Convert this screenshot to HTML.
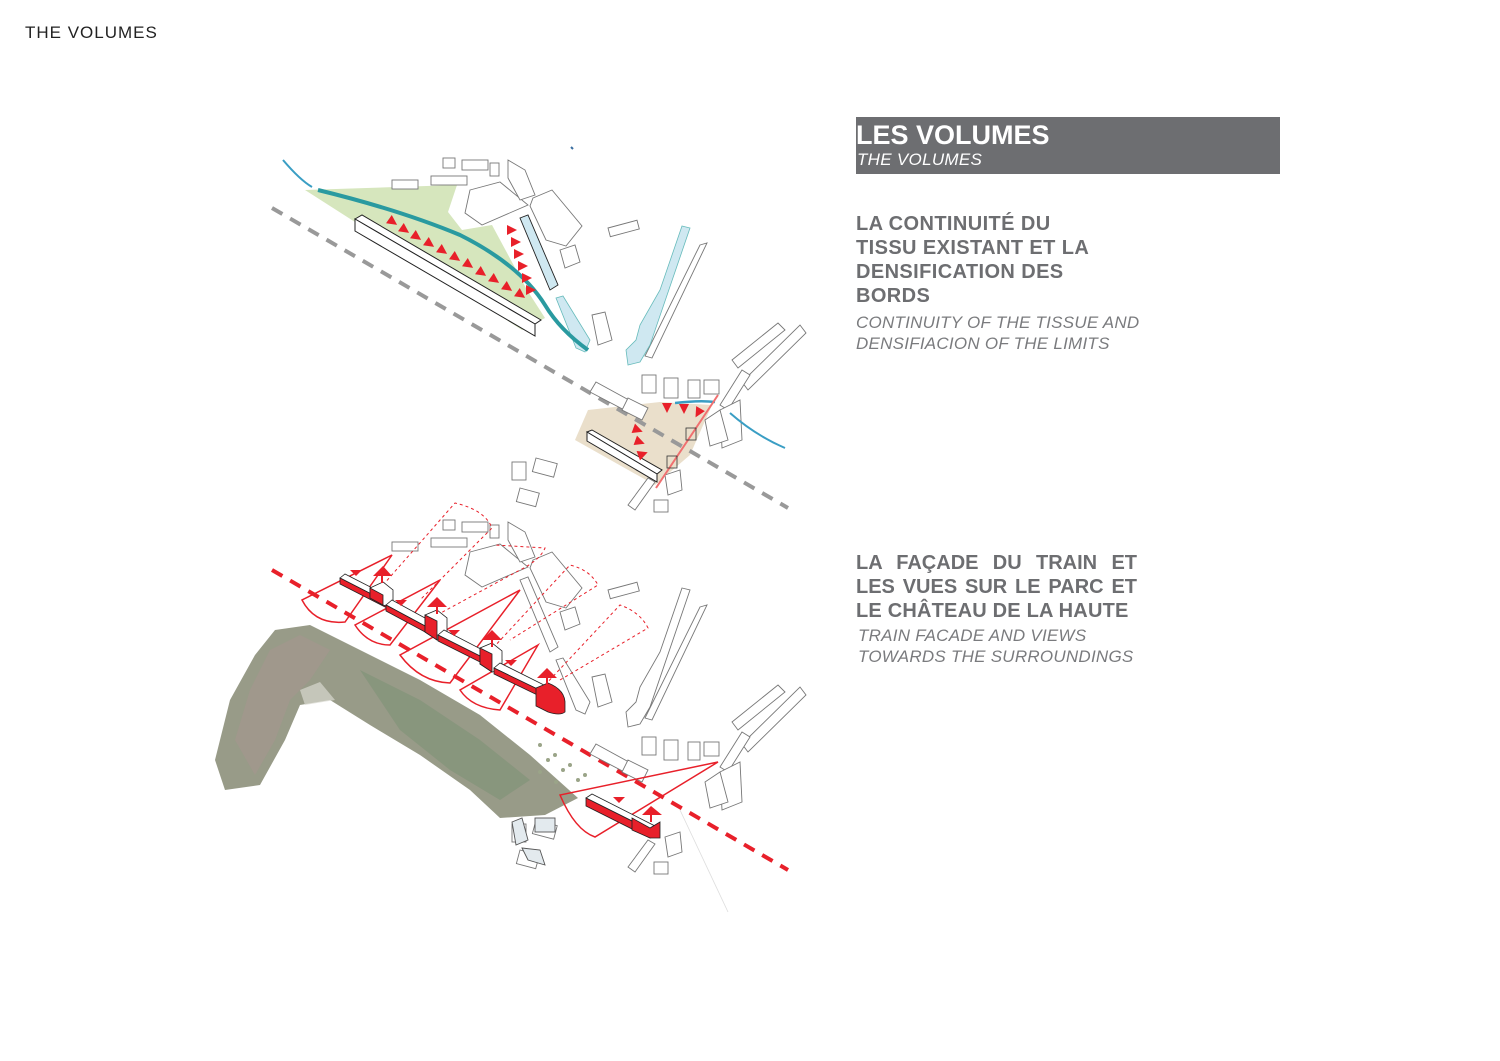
<!DOCTYPE html>
<html><head><meta charset="utf-8"><style>
html,body{margin:0;padding:0;background:#fff}
body{width:1500px;height:1061px;position:relative;overflow:hidden;font-family:"Liberation Sans",sans-serif}
.t{position:absolute;color:#6d6e71}
</style></head><body>
<div class="t" style="left:25px;top:23px;font-size:17px;color:#222;letter-spacing:1px">THE VOLUMES</div>
<div style="position:absolute;left:856px;top:117px;width:424px;height:57px;background:#6d6e71"></div>
<div class="t" style="left:856px;top:120px;font-size:27px;font-weight:bold;color:#fff">LES VOLUMES</div>
<div class="t" style="left:857px;top:150px;font-size:17px;font-style:italic;color:#fff;letter-spacing:0.3px">THE VOLUMES</div>
<div class="t" style="left:856px;top:212px;font-size:20px;font-weight:bold;line-height:24px;letter-spacing:0.4px">LA CONTINUITÉ DU<br>TISSU EXISTANT ET LA<br>DENSIFICATION DES<br>BORDS</div>
<div class="t" style="left:856px;top:312px;font-size:17px;font-style:italic;line-height:21px;color:#7a7b7e;letter-spacing:0.25px">CONTINUITY OF THE TISSUE AND<br>DENSIFIACION OF THE LIMITS</div>
<div class="t" style="left:856px;top:551px;width:281px;font-size:20px;font-weight:bold;line-height:24px;text-align:justify;text-align-last:justify">LA FAÇADE DU TRAIN ET LES VUES SUR LE PARC ET</div>
<div class="t" style="left:856px;top:599px;font-size:20px;font-weight:bold;line-height:24px;letter-spacing:0.2px">LE CHÂTEAU DE LA HAUTE</div>
<div class="t" style="left:858px;top:625px;font-size:17px;font-style:italic;line-height:21px;color:#7a7b7e;letter-spacing:0.25px">TRAIN FACADE AND VIEWS<br>TOWARDS THE SURROUNDINGS</div>

<svg width="1500" height="1061" style="position:absolute;left:0;top:0" xmlns="http://www.w3.org/2000/svg">
<defs>
<g id="bld" fill="#fff" stroke="#777" stroke-width="0.9">
 <rect x="443" y="158" width="12" height="10"/><rect x="462" y="160" width="26" height="10"/><rect x="490" y="163" width="9" height="13"/>
 <rect x="392" y="180" width="26" height="9"/><rect x="431" y="176" width="36" height="9"/>
 <polygon points="470,190 500,182 528,205 482,225 465,213"/>
 <polygon points="508,160 525,170 535,195 520,200 508,178"/>
 <polygon points="533,198 552,190 582,226 566,246 546,240 530,206"/>
 <rect x="608" y="228" width="30" height="9" transform="rotate(-15 608 228)"/>
 <polygon points="700,245 707,243 652,358 645,356"/>
 <polygon points="560,250 575,245 580,262 565,268"/>
 <polygon points="592,315 605,312 612,340 598,345"/>
 <polygon points="596,382 638,405 632,414 590,392"/>
 <polygon points="628,398 648,408 642,420 622,410"/>
 <rect x="642" y="375" width="14" height="18"/><rect x="664" y="378" width="14" height="20"/><rect x="688" y="380" width="12" height="18"/><rect x="704" y="380" width="15" height="14"/>
 <polygon points="732,360 778,323 785,330 738,368"/>
 <polygon points="742,382 800,325 806,333 748,390"/>
 <polygon points="720,405 742,370 750,375 728,410"/>
 <polygon points="720,410 740,400 742,440 722,448"/>
 <polygon points="705,420 720,410 728,440 710,446"/>
 <rect x="512" y="462" width="14" height="18"/><rect x="536" y="458" width="22" height="14" transform="rotate(15 536 458)"/><rect x="520" y="488" width="20" height="14" transform="rotate(15 520 488)"/>
 <polygon points="628,505 648,478 655,482 635,510"/><rect x="654" y="500" width="14" height="12"/>
 <polygon points="665,475 680,470 682,490 668,495"/>
</g>
</defs>

<!-- TOP DIAGRAM -->
<polygon points="305,190 457,185 448,212 462,230 492,225 527,290 545,318 522,330 355,222" fill="#d6e6bd"/>
<polygon points="588,410 660,402 712,405 690,455 655,485 575,440" fill="#eadfcb"/>
<line x1="272" y1="208" x2="788" y2="508" stroke="#999" stroke-width="4" stroke-dasharray="12,9"/>
<use href="#bld"/>
<g fill="#cfe8f1" stroke="#222" stroke-width="0.9">
 <polygon points="520,218 528,215 558,285 550,290"/>
</g>
<g fill="#cfe8f1" stroke="#6bb" stroke-width="0.8">
 <polygon points="682,226 690,228 650,345 640,362 628,365 626,350 636,340 640,325 660,290"/>
 <polygon points="556,298 563,296 590,340 585,352 576,348"/>
</g>
<path d="M283,160 Q300,180 312,187" stroke="#3a9ec4" stroke-width="2" fill="none"/>
<path d="M318,190 Q400,210 460,235 Q520,265 545,305 Q560,330 588,350" stroke="#2a9aa0" stroke-width="4" fill="none"/>
<path d="M675,403 Q700,400 715,402" stroke="#3a9ec4" stroke-width="2.5" fill="none"/>
<path d="M730,413 Q755,435 785,448" stroke="#3a9ec4" stroke-width="2" fill="none"/>
<polygon points="355,219 362,215 541,320 535,324" fill="#fff" stroke="#222" stroke-width="1"/>
<polygon points="355,219 535,324 535,336 355,231" fill="#fff" stroke="#222" stroke-width="1"/>
<polygon points="587,432 592,430 662,470 657,474" fill="#fff" stroke="#222"/>
<polygon points="587,432 657,474 657,482 587,441" fill="#fff" stroke="#222"/>
<line x1="718" y1="395" x2="656" y2="488" stroke="#f07070" stroke-width="2"/>
<g fill="none" stroke="#333" stroke-width="0.8"><rect x="686" y="428" width="10" height="12"/><rect x="667" y="456" width="10" height="12"/></g>
<g fill="#e8202a">
 <g transform="translate(393,222) rotate(35)"><path d="M-5,-5 L5,0 L-5,5 Z"/></g>
 <g transform="translate(405,230) rotate(35)"><path d="M-5,-5 L5,0 L-5,5 Z"/></g>
 <g transform="translate(417,237) rotate(35)"><path d="M-5,-5 L5,0 L-5,5 Z"/></g>
 <g transform="translate(430,244) rotate(35)"><path d="M-5,-5 L5,0 L-5,5 Z"/></g>
 <g transform="translate(443,251) rotate(35)"><path d="M-5,-5 L5,0 L-5,5 Z"/></g>
 <g transform="translate(456,258) rotate(35)"><path d="M-5,-5 L5,0 L-5,5 Z"/></g>
 <g transform="translate(469,265) rotate(35)"><path d="M-5,-5 L5,0 L-5,5 Z"/></g>
 <g transform="translate(482,273) rotate(35)"><path d="M-5,-5 L5,0 L-5,5 Z"/></g>
 <g transform="translate(495,280) rotate(35)"><path d="M-5,-5 L5,0 L-5,5 Z"/></g>
 <g transform="translate(508,288) rotate(35)"><path d="M-5,-5 L5,0 L-5,5 Z"/></g>
 <g transform="translate(521,295) rotate(35)"><path d="M-5,-5 L5,0 L-5,5 Z"/></g>
 <g transform="translate(512,230)"><path d="M-5,-5 L5,0 L-5,5 Z"/></g>
 <g transform="translate(516,242)"><path d="M-5,-5 L5,0 L-5,5 Z"/></g>
 <g transform="translate(519,254)"><path d="M-5,-5 L5,0 L-5,5 Z"/></g>
 <g transform="translate(523,266)"><path d="M-5,-5 L5,0 L-5,5 Z"/></g>
 <g transform="translate(527,278)"><path d="M-5,-5 L5,0 L-5,5 Z"/></g>
 <g transform="translate(531,290)"><path d="M-5,-5 L5,0 L-5,5 Z"/></g>
 <g transform="translate(638,430) rotate(20)"><path d="M-5,-5 L5,0 L-5,5 Z"/></g>
 <g transform="translate(640,442) rotate(20)"><path d="M-5,-5 L5,0 L-5,5 Z"/></g>
 <g transform="translate(643,454) rotate(-20)"><path d="M-5,-5 L5,0 L-5,5 Z"/></g>
 <g transform="translate(667,408) rotate(90)"><path d="M-5,-5 L5,0 L-5,5 Z"/></g>
 <g transform="translate(684,409) rotate(90)"><path d="M-5,-5 L5,0 L-5,5 Z"/></g>
 <g transform="translate(698,413) rotate(120)"><path d="M-5,-5 L5,0 L-5,5 Z"/></g>
</g>

<!-- BOTTOM DIAGRAM -->
<polygon points="215,760 230,700 255,655 275,630 310,625 360,650 420,680 480,715 530,755 578,798 545,815 500,818 470,790 420,755 370,725 330,700 300,705 285,740 260,785 225,790" fill="#989b88"/>
<polygon points="235,740 250,690 270,650 300,635 330,650 310,680 290,700 275,740 255,775" fill="#a8968f" opacity="0.55"/>
<polygon points="360,670 420,700 480,740 530,780 500,800 450,770 400,730" fill="#7c9275" opacity="0.55"/>
<polygon points="300,690 320,682 335,700 305,705" fill="#d8d8d0" opacity="0.7"/>
<g fill="#9aa488"><circle cx="540" cy="745" r="2"/><circle cx="555" cy="755" r="2"/><circle cx="570" cy="765" r="2"/><circle cx="585" cy="775" r="2"/><circle cx="548" cy="760" r="2"/><circle cx="563" cy="770" r="2"/><circle cx="578" cy="780" r="2"/><circle cx="540" cy="772" r="2"/><circle cx="556" cy="782" r="2"/></g>
<line x1="272" y1="570" x2="788" y2="870" stroke="#e8202a" stroke-width="4" stroke-dasharray="12,9"/>
<use href="#bld" transform="translate(0,362)"/>
<g fill="#fff" stroke="#777" stroke-width="0.9">
 <polygon points="520,580 528,577 558,647 550,652"/>
 <polygon points="682,588 690,590 650,707 640,724 628,727 626,712 636,702 640,687 660,652"/>
 <polygon points="556,660 563,658 590,702 585,714 576,710"/>
</g>
<g fill="#e3eaee" stroke="#555" stroke-width="0.9">
 <polygon points="512,822 522,818 528,840 516,845"/><rect x="535" y="818" width="20" height="14"/><polygon points="522,848 540,850 545,865 528,860"/>
</g>
<g fill="none" stroke="#e8202a" stroke-width="1" stroke-dasharray="3,3">
 <path d="M383,585 L455,503 Q485,510 492,528 L420,600"/>
 <path d="M437,615 L520,570 Q540,560 545,548 L495,545"/>
 <path d="M493,648 L570,565 Q590,570 598,585 L510,640"/>
 <path d="M545,685 L620,605 Q640,612 648,628 L560,680"/>
</g>
<g fill="none" stroke="#e8202a" stroke-width="1.5">
 <path d="M392,555 L302,600 Q315,625 345,622 Z"/>
 <path d="M440,580 L355,625 Q368,645 390,645 Z"/>
 <path d="M520,590 L400,655 Q420,682 450,683 Z"/>
 <path d="M538,645 L460,690 Q472,708 500,710 Z"/>
 <path d="M718,762 L560,795 Q575,830 595,837 Z"/>
</g>
<g stroke="#222" stroke-width="0.8">
 <polygon points="340,578 345,574 392,598 387,602" fill="#fff"/>
 <polygon points="340,578 387,602 387,608 340,584" fill="#e8202a"/>
 <polygon points="370,588 383,582 393,590 393,608 383,605 370,598" fill="#fff"/>
 <polygon points="370,588 383,595 383,605 370,598" fill="#e8202a"/>
 <polygon points="386,605 392,600 447,630 440,634" fill="#fff"/>
 <polygon points="386,605 440,634 440,640 386,611" fill="#e8202a"/>
 <polygon points="425,615 437,610 447,618 447,638 437,640 425,632" fill="#fff"/>
 <polygon points="425,615 437,621 437,640 425,632" fill="#e8202a"/>
 <polygon points="438,635 444,630 502,660 496,664" fill="#fff"/>
 <polygon points="438,635 496,664 496,670 438,641" fill="#e8202a"/>
 <polygon points="480,648 492,643 502,651 502,670 492,672 480,664" fill="#fff"/>
 <polygon points="480,648 492,654 492,672 480,664" fill="#e8202a"/>
 <polygon points="494,668 500,663 560,693 554,697" fill="#fff"/>
 <polygon points="494,668 554,697 554,703 494,674" fill="#e8202a"/>
 <path d="M536,688 L548,683 Q566,690 565,705 L565,712 Q560,716 548,712 L536,706 Z" fill="#e8202a"/>
 <polygon points="586,798 592,794 655,826 650,830" fill="#fff"/>
 <polygon points="586,798 650,830 650,838 586,806" fill="#e8202a"/>
 <polygon points="632,818 650,828 660,822 660,838 650,838 632,830" fill="#e8202a"/>
</g>
<g fill="#e8202a">
 <path d="M373,576 L383,566 L392,576 Z"/><rect x="381" y="575" width="2" height="8"/>
 <path d="M427,607 L437,597 L447,607 Z"/><rect x="436" y="606" width="2" height="8"/>
 <path d="M482,640 L492,630 L502,640 Z"/><rect x="491" y="639" width="2" height="8"/>
 <path d="M537,678 L547,668 L557,678 Z"/><rect x="546" y="677" width="2" height="8"/>
 <path d="M642,815 L651,806 L662,815 Z"/><rect x="650" y="814" width="2" height="8"/>
 <path d="M350,570 L356,576 L362,570 Z"/><path d="M395,600 L401,606 L407,600 Z"/>
 <path d="M448,630 L454,636 L460,630 Z"/><path d="M505,660 L511,666 L517,660 Z"/>
 <path d="M613,797 L619,803 L625,797 Z"/>
</g>
<line x1="680" y1="810" x2="728" y2="912" stroke="#ddd" stroke-width="0.8"/>
<path d="M571,147 l2,2" stroke="#3a6ea0" stroke-width="2"/>
</svg>
</body></html>
